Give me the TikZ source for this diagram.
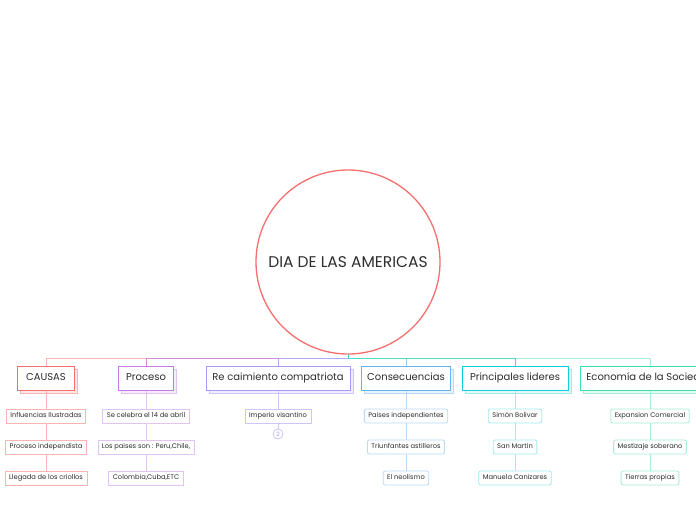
\documentclass[tikz,border=0pt]{standalone}
\usepackage{fontspec}
\setmainfont{Poppins}
\definecolor{tcaus}{HTML}{F76E6E}\definecolor{lcaus}{HTML}{F9B4B4}
\definecolor{tproc}{HTML}{C27AE6}\definecolor{lproc}{HTML}{E2C4F4}
\definecolor{trec}{HTML}{A898F6}\definecolor{lrec}{HTML}{CEC6FA}
\definecolor{tcons}{HTML}{68B2F2}\definecolor{lcons}{HTML}{B8DAF8}
\definecolor{tlid}{HTML}{12CCD6}\definecolor{llid}{HTML}{A2EAEE}
\definecolor{teco}{HTML}{3EDCAC}\definecolor{leco}{HTML}{A8EED6}
\definecolor{txt}{HTML}{2E2E2E}
\tikzset{
  topic/.style={draw, fill=white, line width=1pt, minimum height=24, inner sep=0, text height=7pt, text depth=2.5pt, text=txt, font=\fontsize{10}{12}\selectfont},
  shadowbox/.style={draw, line width=1pt, minimum height=24, inner sep=0},
  sub/.style={draw, fill=white, line width=0.8pt, rounded corners=2, minimum height=14, inner xsep=4, inner ysep=0, text height=5pt, text depth=1.5pt, text=txt, font=\fontsize{6.7}{7}\selectfont},
  link/.style={line width=1pt},
}
\begin{document}
\begin{tikzpicture}[x=1pt,y=-1pt]
\useasboundingbox (0,0) rectangle (696,520);
\fill[white] (0,0) rectangle (696,520);
\clip (0,0) rectangle (696,520);
% root
\node[circle, draw=tcaus, line width=1.3pt, minimum size=184, inner sep=0, text=txt, font=\fontsize{15.5}{17}\selectfont] (root) at (348,262) {DIA DE LAS AMERICAS};
\coordinate (hub) at (348,358);
% topic shadows
\node[shadowbox, draw=lcaus, fill=lcaus!30, minimum width=57] at (49,381) {};
\node[shadowbox, draw=lproc, fill=lproc!30, minimum width=55] at (149,381) {};
\node[shadowbox, draw=lrec, fill=lrec!30, minimum width=144] at (281,381) {};
\node[shadowbox, draw=lcons, fill=lcons!30, minimum width=89] at (409,381) {};
\node[shadowbox, draw=llid, fill=llid!30, minimum width=106] at (518,381) {};
\node[shadowbox, draw=leco, fill=leco!30, minimum width=140] at (653,381) {};
% topics
\node[topic, draw=tcaus, minimum width=57] (causas) at (46,378) {CAUSAS};
\node[topic, draw=tproc, minimum width=55] (proceso) at (146,378) {Proceso};
\node[topic, draw=trec, minimum width=144] (recaim) at (278,378) {Re caimiento compatriota};
\node[topic, draw=tcons, minimum width=89] (consec) at (406,378) {Consecuencias};
\node[topic, draw=tlid, minimum width=106] (lideres) at (515,378) {Principales lideres};
\node[topic, draw=teco, minimum width=140] (econ) at (650,378) {Economía de la Sociedad};
% branches
\draw[link, draw=lcaus] (root.south) -- (hub);
\draw[link, draw=lcaus] (hub) -| (causas.north);
\draw[link, draw=tproc!70!lcaus] (hub) -| (proceso.north);
\draw[link, draw=trec!85] (hub) -| (recaim.north);
\draw[link, draw=tcons!70] (hub) -| (consec.north);
\draw[link, draw=leco] (hub) -| (econ.north);
\draw[link, draw=teco!60!tlid!85] (hub) -| (lideres.north);
\draw[link, draw=teco!70!tlid] (root.south) -- (hub);
% causas subs
\node[sub, draw=lcaus, rounded corners=0] (c1) at (46,416) {Influencias Ilustradas};
\node[sub, draw=lcaus, rounded corners=0] (c2) at (46,447) {Proceso independista};
\node[sub, draw=lcaus, rounded corners=0] (c3) at (46,478) {Llegada de los criollos};
\draw[link, draw=lcaus] (causas.south) -- (c1.north) (c1.south) -- (c2.north) (c2.south) -- (c3.north);
% proceso subs
\node[sub, draw=lproc, rounded corners=0] (p1) at (146,416) {Se celebra el 14 de abril};
\node[sub, draw=lproc, rounded corners=0] (p2) at (146,447) {Los paises son : Peru,Chile,};
\node[sub, draw=lproc, rounded corners=0] (p3) at (146,478) {Colombia,Cuba,ETC};
\draw[link, draw=lproc] (proceso.south) -- (p1.north) (p1.south) -- (p2.north) (p2.south) -- (p3.north);
% recaimiento subs
\node[sub, draw=lrec, rounded corners=0] (r1) at (278,416) {Imperio visantino};
\node[circle, draw=lrec, fill=white, line width=0.8pt, minimum size=10, inner sep=0, text=trec, font=\fontsize{6}{6}\selectfont] (rmore) at (278,434) {2};
\draw[link, draw=lrec] (recaim.south) -- (r1.north) (r1.south) -- (rmore.north);
% consecuencias subs
\node[sub, draw=lcons] (s1) at (406,416) {Paises independientes};
\node[sub, draw=lcons] (s2) at (406,447) {Triunfantes astilleros};
\node[sub, draw=lcons] (s3) at (406,478) {El neolismo};
\draw[link, draw=lcons] (consec.south) -- (s1.north) (s1.south) -- (s2.north) (s2.south) -- (s3.north);
% lideres subs
\node[sub, draw=llid] (l1) at (515,416) {Simón Bolivar};
\node[sub, draw=llid] (l2) at (515,447) {San Martin};
\node[sub, draw=llid] (l3) at (515,478) {Manuela Canizares};
\draw[link, draw=llid] (lideres.south) -- (l1.north) (l1.south) -- (l2.north) (l2.south) -- (l3.north);
% economia subs
\node[sub, draw=leco] (e1) at (650,416) {Expansion Comercial};
\node[sub, draw=leco] (e2) at (650,447) {Mestizaje soberano};
\node[sub, draw=leco] (e3) at (650,478) {Tierras propias};
\draw[link, draw=leco] (econ.south) -- (e1.north) (e1.south) -- (e2.north) (e2.south) -- (e3.north);
\end{tikzpicture}
\end{document}
